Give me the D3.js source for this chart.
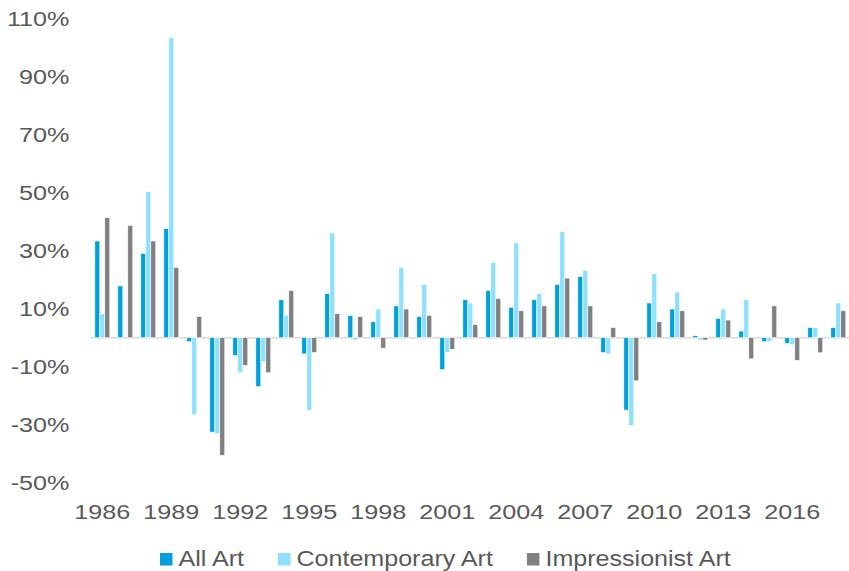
<!DOCTYPE html>
<html>
<head>
<meta charset="utf-8">
<script src="https://cdn.jsdelivr.net/npm/d3@7"></script>
<style>
  html, body { margin: 0; padding: 0; background: #fff; }
  svg { display: block; }
  text { font-family: Arial, "Liberation Sans", sans-serif; fill: #595959; }
</style>
</head>
<body>
<svg id="chart" width="849" height="571"></svg>
<script>
const years = [1986,1987,1988,1989,1990,1991,1992,1993,1994,1995,1996,1997,1998,1999,2000,2001,2002,2003,2004,2005,2006,2007,2008,2009,2010,2011,2012,2013,2014,2015,2016,2017,2018];
const allArt = [33.4,17.9,29.1,37.7,-1.4,-32.6,-6.2,-16.9,13.1,-5.6,15.2,7.7,5.5,11.0,7.3,-11.0,13.1,16.3,10.5,13.1,18.4,21.1,-5.1,-25.0,12.0,9.9,0.7,6.7,2.3,-1.4,-2.0,3.5,3.5];
const contemporaryArt = [8.2,0,50.5,103.6,-26.6,-33.2,-12.1,-8.3,7.7,-25.0,36.2,-0.8,9.9,24.3,18.4,-5.1,12.0,25.9,32.8,15.2,36.6,23.3,-5.6,-30.3,22.1,15.8,-0.8,9.9,13.1,-1.4,-2.4,3.5,12.0];
const impressionistArt = [41.5,38.8,33.4,24.3,7.3,-40.6,-9.6,-12.1,16.3,-5.1,8.3,7.3,-3.6,9.9,7.7,-4.0,4.5,13.6,9.3,11.0,20.6,11.0,3.5,-14.9,5.5,9.3,-0.8,6.1,-7.3,11.0,-7.8,-5.2,9.3];
const seriesNames = ["All Art", "Contemporary Art", "Impressionist Art"];
const seriesColors = ["#00A0DC", "#8FE0FF", "#808080"];
const yTicks = [-50,-30,-10,10,30,50,70,90,110];
const xTickYears = [1986,1989,1992,1995,1998,2001,2004,2007,2010,2013,2016];

const seriesValues = [allArt, contemporaryArt, impressionistArt];
const svg = d3.select("#chart");
const SX = 1.2;

const y = d3.scaleLinear().domain([-50, 110]).range([482.5, 19.2]);
const x0 = d3.scaleBand().domain(years).range([90.8, 849.8]).paddingInner(0.35).paddingOuter(0.175);
const x1 = d3.scaleBand().domain(seriesNames).range([0, x0.bandwidth()]).padding(0);

// zero line
svg.append("line")
  .attr("x1", 90).attr("x2", 849)
  .attr("y1", y(0)).attr("y2", y(0))
  .attr("stroke", "#d9d9d9").attr("stroke-width", 1.5);

// bars
const groups = svg.append("g").selectAll("g")
  .data(years).join("g")
  .attr("transform", d => `translate(${x0(d)},0)`);

groups.selectAll("rect")
  .data((yr, i) => seriesNames.map((s, k) => ({s, k, v: seriesValues[k][i]})))
  .join("rect")
  .attr("x", d => x1(d.s))
  .attr("width", x1.bandwidth())
  .attr("y", d => y(Math.max(0, d.v)))
  .attr("height", d => Math.abs(y(d.v) - y(0)))
  .attr("fill", d => seriesColors[d.k])
  .attr("stroke", "#fff").attr("stroke-width", 0.6);

// y axis
const yAxis = svg.append("g").attr("transform", "translate(75,0)")
  .call(d3.axisLeft(y).tickValues(yTicks).tickFormat(d => d + "%").tickSize(0).tickPadding(5.5));
yAxis.select(".domain").remove();
yAxis.selectAll("text")
  .attr("font-size", 21).attr("fill", "#595959")
  .attr("font-family", "Arial, 'Liberation Sans', sans-serif")
  .attr("x", -5.5 / SX)
  .attr("transform", `scale(${SX},1)`);

// x axis
const xAxis = svg.append("g").attr("transform", "translate(0,490)")
  .call(d3.axisBottom(x0).tickValues(xTickYears).tickSize(0).tickPadding(14));
xAxis.select(".domain").remove();
xAxis.selectAll("text")
  .attr("font-size", 21).attr("fill", "#595959")
  .attr("font-family", "Arial, 'Liberation Sans', sans-serif")
  .attr("transform", `scale(${SX},1)`);

// legend
const LSX = 1.14;
const legend = svg.append("g");
let lx = 160;
seriesNames.forEach((name, k) => {
  legend.append("rect")
    .attr("x", lx).attr("y", 553)
    .attr("width", 12.5).attr("height", 12.5)
    .attr("fill", seriesColors[k]);
  const tx = lx + 18.5;
  const t = legend.append("text")
    .attr("x", tx / LSX).attr("y", 566)
    .attr("font-size", 22)
    .attr("transform", `scale(${LSX},1)`)
    .text(name);
  const w = t.node().getComputedTextLength() * LSX;
  lx = tx + w + 34;
});
</script>
</body>
</html>
